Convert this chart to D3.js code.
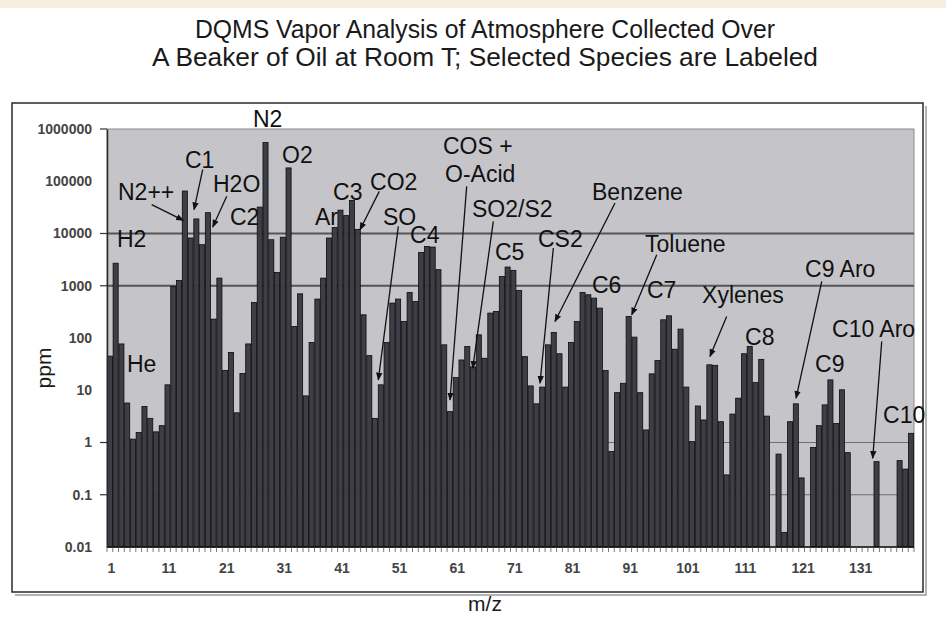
<!DOCTYPE html>
<html>
<head>
<meta charset="utf-8">
<script src="https://cdn.jsdelivr.net/npm/d3@7"></script>
<style>
  body { margin: 0; background: #fff; }
  text { font-family: "Liberation Sans", Arial, sans-serif; }
</style>
</head>
<body>
<svg></svg>
<script>
// m/z channels shown on the category axis
var mz = d3.range(1, 141);

// ppm read for each m/z (null = no bar drawn)
var ppm = [
  45, 2700, 77, 5.7, 1.16, 1.55, 4.9, 2.9, 1.6, 2.1,
  12.7, 970, 1260, 65000, 8200, 19000, 6100, 25000, 230, 1400,
  24, 53, 3.7, 21, 77, 480, 32000, 550000, 7600, 1800,
  8500, 180000, 166, 700, 7.8, 82, 556, 1400, 8200, 13000,
  28000, 22000, 43000, 12000, 278, 46, 2.9, 12.7, 82, 466,
  556, 207, 745, 500, 4350, 5660, 5500, 2030, 74, 3.9,
  17.5, 38, 69, 28, 115, 41, 300, 322, 1500, 2280,
  1970, 813, 44, 12.1, 5.5, 11.5, 74, 128, 50, 11.5,
  82, 207, 745, 673, 580, 373, 23.8, 0.67, 9.0, 13.6,
  258, 104, 9.0, 1.74, 20.6, 37, 223, 266, 61, 148,
  11.5, 1.04, 5.0, 2.7, 30.7, 30, 2.5, 0.24, 3.5, 7.05,
  50, 69, 14, 39, 3.2, null, 0.6, 0.019, 2.5, 5.5,
  0.21, null, 0.8, 2.1, 5.25, 15.8, 2.3, 10.2, 0.64, null,
  null, null, null, 0.43, null, null, null, 0.45, 0.31, 1.5
];

var yTickValues = [1000000, 100000, 10000, 1000, 100, 10, 1, 0.1, 0.01];
var yTickLabels = ["1000000", "100000", "10000", "1000", "100", "10", "1", "0.1", "0.01"];
var yMarkValues = [1000000, 10000, 1000, 1, 0.1];
var gridValues = [10000, 1000, 1, 0.1];
var xTickLabels = [1, 11, 21, 31, 41, 51, 61, 71, 81, 91, 101, 111, 121, 131];

var titleLines = ["DQMS Vapor Analysis of Atmosphere Collected Over",
                  "A Beaker of Oil at Room T; Selected Species are Labeled"];

// species labels: text, m/z and ppm of the text's left baseline
var labelText = ["N2", "O2", "C1", "H2O", "N2++", "C2", "H2", "He", "Ar", "C3", "CO2", "SO", "C4",
                 "COS +", "O-Acid", "SO2/S2", "C5", "CS2", "Benzene", "C6", "Toluene", "C7",
                 "Xylenes", "C8", "C9 Aro", "C10 Aro", "C9", "C10"];
var labelMz = [25.83, 30.86, 14.03, 18.89, 2.41, 21.84, 2.23, 3.97, 36.59, 39.71, 46.13, 48.38, 53.07,
               58.79, 59.14, 63.82, 67.81, 75.27, 84.64, 84.64, 93.84, 94.18,
               103.73, 111.19, 121.6, 126.28, 123.33, 135.13];
var labelPpm = [1.11e6, 2.27e5, 1.82e5, 63200, 44400, 14750, 5585, 22.5, 14750, 44400, 69000, 14750, 6670,
                338000, 98200, 21000, 3150, 5585, 44400, 734, 4480, 589,
                472, 74, 1486, 105, 22.5, 2.37];

// arrows from a label to its peak: [from m/z, from ppm, to m/z, to ppm]
var arrows = [
  [8.25, 35600, 13.74, 17800],     // N2++
  [17.1, 167000, 15.6, 28600],     // C1
  [21.27, 51400, 18.84, 13300],    // H2O
  [47.74, 64100, 44.39, 11800],    // CO2
  [51.04, 13700, 47.57, 15.8],     // SO
  [62.9, 79800, 60.0, 6.5],        // COS + / O-Acid
  [67.52, 17100, 63.95, 26.5],     // SO2/S2
  [77.93, 5270, 75.62, 13.7],      // CS2
  [88.63, 38400, 78.22, 207],      // Benzene
  [95.87, 3930, 91.53, 278],       // Toluene
  [108.0, 258, 105.1, 44.3],       // Xylenes
  [124.5, 1208, 120.04, 7.06],     // C9 Aro
  [134.9, 85.7, 133.34, 0.5]       // C10 Aro
];

var width = 946;
var height = 623;
var plot = {left: 107, right: 914, top: 129, bottom: 547};

var svg = d3.select("svg")
    .attr("width", width)
    .attr("height", height);

// band scale for the bars, linear twin for annotation positions
var x = d3.scaleBand()
    .domain(mz)
    .range([plot.left, plot.right])
    .paddingInner(0.12)
    .paddingOuter(0.06);

var xl = d3.scaleLinear()
    .domain([0.5, 140.5])
    .range([plot.left, plot.right]);

var y = d3.scaleLog()
    .domain([0.01, 1000000])
    .range([plot.bottom, plot.top]);

// beige strip at the top of the page
svg.append("rect")
    .attr("x", 0).attr("y", 0)
    .attr("width", width).attr("height", 8)
    .style("fill", "#f6efdf");

// title (the original face is a bit condensed)
svg.selectAll(".title")
    .data(titleLines)
    .enter().append("text")
    .attr("class", "title")
    .attr("x", 485)
    .attr("y", function(d, i) { return 38 + i * 28; })
    .attr("text-anchor", "middle")
    .attr("textLength", function(d, i) { return i == 0 ? 580 : 666; })
    .attr("lengthAdjust", "spacingAndGlyphs")
    .style("font-size", "26px")
    .style("fill", "#1a1a1a")
    .text(function(d) { return d; });

// outer chart frame with a little shadow
svg.append("path")
    .attr("d", "M15,595 H926 V106")
    .style("fill", "none")
    .style("stroke", "#9a9a9a")
    .style("stroke-width", 1.5);
svg.append("rect")
    .attr("x", 12).attr("y", 103)
    .attr("width", 911).attr("height", 489)
    .style("fill", "none")
    .style("stroke", "#2a2a2a")
    .style("stroke-width", 1.5);

// plot area
svg.append("rect")
    .attr("x", plot.left).attr("y", plot.top)
    .attr("width", plot.right - plot.left)
    .attr("height", plot.bottom - plot.top)
    .style("fill", "#c5c5c9")
    .style("stroke", "#8a8a8a")
    .style("stroke-width", 1);

// gridlines
svg.selectAll(".grid")
    .data(gridValues)
    .enter().append("line")
    .attr("class", "grid")
    .attr("x1", plot.left).attr("x2", plot.right)
    .attr("y1", function(d) { return y(d); })
    .attr("y2", function(d) { return y(d); })
    .style("stroke", function(d) { return d >= 1000 ? "#555" : "#6e6e6e"; })
    .style("stroke-width", function(d) { return d >= 1000 ? 2 : 1; });

// bars
svg.selectAll(".bar")
    .data(mz.filter(function(d, i) { return ppm[i] != null; }))
    .enter().append("rect")
    .attr("class", "bar")
    .attr("x", function(d) { return x(d); })
    .attr("width", x.bandwidth())
    .attr("y", function(d) { return y(ppm[d - 1]); })
    .attr("height", function(d) { return y(0.01) - y(ppm[d - 1]); })
    .style("fill", "#3e3e46")
    .style("stroke", "#0c0c0c")
    .style("stroke-width", 0.8);

// y axis: labels for every decade, marks only where the original shows them
var yAxis = d3.axisLeft(y)
    .tickValues(yTickValues)
    .tickFormat(function(d, i) { return yTickLabels[i]; })
    .tickSize(0)
    .tickPadding(15);

var gy = svg.append("g")
    .attr("transform", "translate(" + plot.left + ",0)")
    .call(yAxis);
gy.select(".domain").style("stroke", "#2a2a2a").style("stroke-width", 1.5);
gy.selectAll("text")
    .style("font-size", "14px")
    .style("font-weight", "bold")
    .style("fill", "#444")
    .style("font-family", "\"Liberation Sans\", Arial, sans-serif");

svg.selectAll(".ymark")
    .data(yMarkValues)
    .enter().append("line")
    .attr("class", "ymark")
    .attr("x1", plot.left - 7).attr("x2", plot.left)
    .attr("y1", function(d) { return y(d); })
    .attr("y2", function(d) { return y(d); })
    .style("stroke", "#333")
    .style("stroke-width", 1.2);

// x axis line, small ticks between categories, labels every 10
svg.append("line")
    .attr("x1", plot.left).attr("x2", plot.right)
    .attr("y1", plot.bottom).attr("y2", plot.bottom)
    .style("stroke", "#111")
    .style("stroke-width", 1.5);

svg.selectAll(".xmark")
    .data(d3.range(0.5, 141, 1))
    .enter().append("line")
    .attr("class", "xmark")
    .attr("x1", function(d) { return xl(d); })
    .attr("x2", function(d) { return xl(d); })
    .attr("y1", plot.bottom).attr("y2", plot.bottom + 5)
    .style("stroke", "#555")
    .style("stroke-width", 0.8);

svg.selectAll(".xlabel")
    .data(xTickLabels)
    .enter().append("text")
    .attr("class", "xlabel")
    .attr("x", function(d) { return x(d) + x.bandwidth() / 2 + 1.5; })
    .attr("y", 573)
    .attr("text-anchor", "middle")
    .style("font-size", "14px")
    .style("font-weight", "bold")
    .style("fill", "#444")
    .text(function(d) { return d; });

// axis titles
svg.append("text")
    .attr("transform", "translate(51,368) rotate(-90)")
    .attr("text-anchor", "middle")
    .style("font-size", "21px")
    .style("fill", "#1a1a1a")
    .text("ppm");

svg.append("text")
    .attr("x", 485)
    .attr("y", 611)
    .attr("text-anchor", "middle")
    .style("font-size", "21px")
    .style("fill", "#1a1a1a")
    .text("m/z");

// arrowhead
svg.append("defs").append("marker")
    .attr("id", "head")
    .attr("viewBox", "0 0 10 8")
    .attr("refX", 9).attr("refY", 4)
    .attr("markerWidth", 8).attr("markerHeight", 7)
    .attr("markerUnits", "userSpaceOnUse")
    .attr("orient", "auto")
    .append("path")
    .attr("d", "M0,0 L10,4 L0,8 Z")
    .style("fill", "#111");

svg.selectAll(".arrow")
    .data(arrows)
    .enter().append("line")
    .attr("class", "arrow")
    .attr("x1", function(d) { return xl(d[0]); })
    .attr("y1", function(d) { return y(d[1]); })
    .attr("x2", function(d) { return xl(d[2]); })
    .attr("y2", function(d) { return y(d[3]); })
    .attr("marker-end", "url(#head)")
    .style("stroke", "#111")
    .style("stroke-width", 1.3);

// species labels
svg.selectAll(".species")
    .data(labelText)
    .enter().append("text")
    .attr("class", "species")
    .attr("x", function(d, i) { return xl(labelMz[i]); })
    .attr("y", function(d, i) { return y(labelPpm[i]); })
    .style("font-size", "23px")
    .style("fill", "#111")
    .text(function(d) { return d; });
</script>
</body>
</html>
